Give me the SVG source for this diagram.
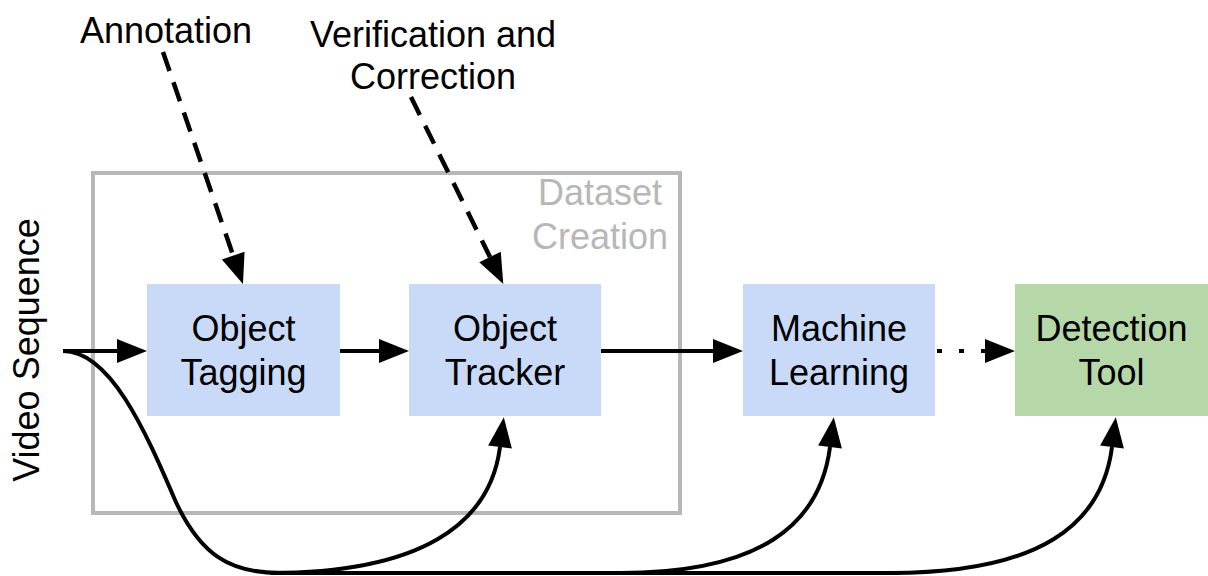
<svg xmlns="http://www.w3.org/2000/svg" width="1208" height="576" viewBox="0 0 1208 576">
  <style>
    text { font-family: "Liberation Sans", Arial, sans-serif; font-size: 36px; fill: #000; }
    .lbl { text-anchor: middle; }
    .grey { fill: #b7b7b7; }
    .proc { fill: #c9daf8; }
    .out { fill: #b6d7a8; }
    .edge { fill: none; stroke: #000; stroke-width: 4; }
    .dash { stroke-width: 4.5; stroke-dasharray: 20 12; }
    .dot { stroke-dasharray: 5 17; }
  </style>
  <defs>
    <marker id="head" markerUnits="userSpaceOnUse" markerWidth="32" markerHeight="26" refX="0" refY="12" orient="auto" overflow="visible">
      <path d="M0,0 L30,12 L0,24 z" fill="#000"/>
    </marker>
  </defs>

  <!-- dataset creation frame -->
  <g id="dataset-creation">
    <rect x="93" y="173" width="587" height="340" fill="none" stroke="#b7b7b7" stroke-width="4"/>
    <text class="lbl grey" x="600" y="205">Dataset</text>
    <text class="lbl grey" x="600" y="249">Creation</text>
  </g>

  <g id="video-sequence">
    <text class="lbl" transform="translate(39,350) rotate(-90)">Video Sequence</text>
  </g>

  <g id="annotation">
    <text class="lbl" x="166" y="43">Annotation</text>
  </g>

  <g id="verification">
    <text class="lbl" x="433" y="47">Verification and</text>
    <text class="lbl" x="433" y="89">Correction</text>
  </g>

  <g id="object-tagging">
    <rect class="proc" x="147" y="284" width="193" height="132"/>
    <text class="lbl" x="243.5" y="341">Object</text>
    <text class="lbl" x="243.5" y="385">Tagging</text>
  </g>

  <g id="object-tracker">
    <rect class="proc" x="409" y="284" width="192" height="132"/>
    <text class="lbl" x="505" y="341">Object</text>
    <text class="lbl" x="505" y="385">Tracker</text>
  </g>

  <g id="machine-learning">
    <rect class="proc" x="743" y="284" width="192" height="132"/>
    <text class="lbl" x="839" y="341">Machine</text>
    <text class="lbl" x="839" y="385">Learning</text>
  </g>

  <g id="detection-tool">
    <rect class="out" x="1015" y="284" width="193" height="132"/>
    <text class="lbl" x="1111.5" y="341">Detection</text>
    <text class="lbl" x="1111.5" y="385">Tool</text>
  </g>

  <g id="connectors">
    <!-- main pipeline -->
    <path class="edge" d="M63,351 H117" marker-end="url(#head)"/>
    <path class="edge" d="M340,351 H379" marker-end="url(#head)"/>
    <path class="edge" d="M601,351 H713" marker-end="url(#head)"/>
    <path class="edge dot" d="M937,351 H985" marker-end="url(#head)"/>

    <!-- manual inputs -->
    <path class="edge dash" d="M163,52 L233.2,255.6" marker-end="url(#head)"/>
    <path class="edge dash" d="M411,97 L490,257" marker-end="url(#head)"/>

    <!-- video bypass curves -->
    <path class="edge" d="M63,351 C110,351 145,430 175,500 C200,555 230,573 280,573 H900"/>
    <path class="edge" d="M270,573 C420,573 490,525 500,447" marker-end="url(#head)"/>
    <path class="edge" d="M620,573 C760,573 820,525 830,447" marker-end="url(#head)"/>
    <path class="edge" d="M890,573 C1040,573 1102,525 1112,447" marker-end="url(#head)"/>
  </g>
</svg>
